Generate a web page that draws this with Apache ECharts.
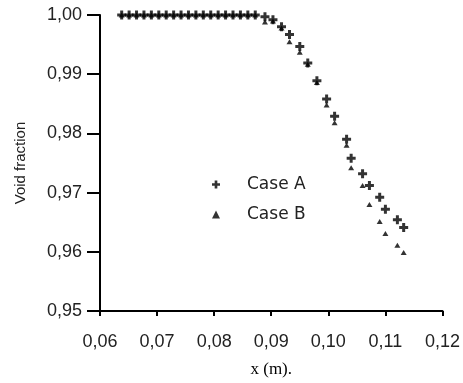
<!DOCTYPE html>
<html>
<head>
<meta charset="utf-8">
<script src="https://cdn.jsdelivr.net/npm/echarts@6/dist/echarts.min.js"></script>
<style>
  html, body { margin: 0; padding: 0; background: #fff; }
  #chart { width: 463px; height: 383px; }
</style>
</head>
<body>
<div id="chart"></div>
<script>
// x positions (m) and void fraction
const flatX = [0.0638, 0.0651, 0.0664, 0.0677, 0.0690, 0.0703, 0.0716, 0.0729, 0.0742, 0.0755,
  0.0768, 0.0781, 0.0794, 0.0807, 0.0820, 0.0833, 0.0846, 0.0859, 0.0872];
const flatY = [1, 1, 1, 1, 1, 1, 1, 1, 1, 1, 1, 1, 1, 1, 1, 1, 1, 1, 1];

const curveX = [0.0889, 0.0903, 0.0918, 0.0932, 0.0950, 0.0964, 0.0980, 0.0997, 0.1011,
  0.1032, 0.1040, 0.1060, 0.1072, 0.1090, 0.1100, 0.1121, 0.1132];
const caseA = [0.9997, 0.9992, 0.9980, 0.9967, 0.9947, 0.9919, 0.9889, 0.9858, 0.9829,
  0.9790, 0.9758, 0.9732, 0.9712, 0.9692, 0.9672, 0.9654, 0.9641];
const caseB = [0.9988, 0.9990, 0.9978, 0.9955, 0.9937, 0.9917, 0.9886, 0.9848, 0.9818,
  0.9780, 0.9742, 0.9712, 0.9680, 0.9651, 0.9631, 0.9611, 0.9599];

const xTicks = ['0,06', '0,07', '0,08', '0,09', '0,10', '0,11', '0,12'];
const yTicks = ['0,95', '0,96', '0,97', '0,98', '0,99', '1,00'];

const PLUS = 'path://M3,0h3v3h3v3h-3v3h-3v-3h-3v-3h3z';
const INK = '#000';

const pts = (xs, ys) => xs.map((x, i) => [x, ys[i]]);

const chart = echarts.init(document.getElementById('chart'));
chart.setOption({
  backgroundColor: '#fff',
  animation: false,
  grid: { left: 100, right: 20, top: 15, bottom: 66 },
  legend: {
    orient: 'vertical',
    left: 207,
    top: 171,
    itemWidth: 8,
    itemHeight: 8,
    itemGap: 13,
    textStyle: {
      fontFamily: 'DejaVu Sans',
      fontSize: 17,
      color: '#222',
      padding: [0, 0, 0, 22],
    },
    data: [
      { name: 'Case A', icon: PLUS },
      { name: 'Case B', icon: 'triangle' },
    ],
  },
  xAxis: {
    type: 'value',
    min: 0.06,
    max: 0.12,
    interval: 0.01,
    name: 'x (m).',
    nameLocation: 'middle',
    nameGap: 50,
    nameTextStyle: { fontFamily: 'Liberation Serif', fontSize: 17, color: INK },
    axisLine: { lineStyle: { color: INK, width: 2 } },
    axisTick: { length: 5, lineStyle: { color: INK, width: 2 } },
    axisLabel: {
      margin: 22,
      fontFamily: 'Liberation Sans',
      fontSize: 18,
      color: '#222',
      formatter: (v) => xTicks[Math.round((v - 0.06) / 0.01)],
    },
    splitLine: { show: false },
  },
  yAxis: {
    type: 'value',
    min: 0.95,
    max: 1.0,
    interval: 0.01,
    name: 'Void fraction',
    nameLocation: 'middle',
    nameGap: 72,
    nameTextStyle: { fontFamily: 'Liberation Sans', fontSize: 15, color: '#222' },
    axisLine: { lineStyle: { color: INK, width: 2 } },
    axisTick: { length: 13, lineStyle: { color: INK, width: 2 } },
    axisLabel: {
      margin: 18,
      fontFamily: 'Liberation Sans',
      fontSize: 18,
      color: '#222',
      formatter: (v) => yTicks[Math.round((v - 0.95) / 0.01)],
    },
    splitLine: { show: false },
  },
  series: [
    {
      name: 'Case A',
      type: 'scatter',
      symbol: PLUS,
      symbolSize: 9,
      itemStyle: { color: INK },
      clip: false,
      data: pts(flatX, flatY).concat(pts(curveX, caseA)),
    },
    {
      name: 'Case B',
      type: 'scatter',
      symbol: 'triangle',
      symbolSize: [6, 5],
      itemStyle: { color: INK },
      clip: false,
      data: pts(flatX, flatY).concat(pts(curveX, caseB)),
    },
  ],
});
</script>
</body>
</html>
